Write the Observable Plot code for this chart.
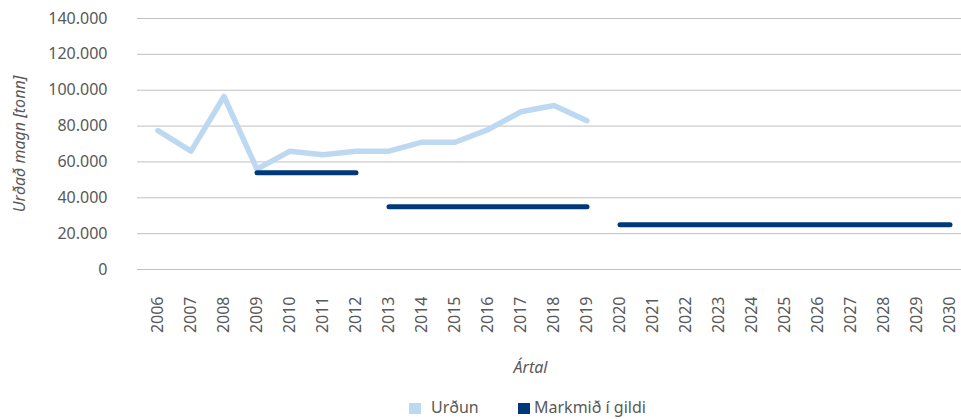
<!DOCTYPE html>
<html>
<head>
<meta charset="utf-8">
<script src="https://cdn.jsdelivr.net/npm/d3@7"></script>
<script src="https://cdn.jsdelivr.net/npm/@observablehq/plot@0.6"></script>
<style>
  body { margin: 0; background: #fff; font-family: "Noto Sans", sans-serif; overflow: hidden; }
  #chart svg { display: block; }
  #legend { height: 29px; position: relative; color: #595959; font-size: 16px; }
  .sw { position: absolute; top: 13px; width: 12px; height: 11px; }
  .lb { position: absolute; top: 9px; line-height: 17px; white-space: nowrap; }
</style>
</head>
<body>
<div id="chart"></div>
<div id="legend"></div>
<script>
const years = d3.range(2006, 2031).map(String);
const urdunYears = ["2006","2007","2008","2009","2010","2011","2012","2013","2014","2015","2016","2017","2018","2019"];
const urdunValues = [77500, 66000, 96500, 56000, 66000, 64000, 66000, 66000, 71000, 71000, 78000, 88000, 91500, 83000];
const markmidYears = ["2009","2010","2011","2012","2013","2014","2015","2016","2017","2018","2019","2020","2021","2022","2023","2024","2025","2026","2027","2028","2029","2030"];
const markmidValues = [54000,54000,54000,54000,35000,35000,35000,35000,35000,35000,35000,25000,25000,25000,25000,25000,25000,25000,25000,25000,25000,25000];
const markmidPeriod = ["A","A","A","A","B","B","B","B","B","B","B","C","C","C","C","C","C","C","C","C","C","C"];
const yTicks = [0, 20000, 40000, 60000, 80000, 100000, 120000, 140000];
const seriesNames = ["Urðun", "Markmið í gildi"];
const colors = ["#bdd9f2", "#003878"];

const urdun = urdunYears.map((y, i) => ({year: y, value: urdunValues[i]}));
const markmid = markmidYears.map((y, i) => ({year: y, value: markmidValues[i], period: markmidPeriod[i]}));
const fmt = d => d3.format(",")(d).replace(/,/g, ".");
const textColor = "#595959";

const chart = Plot.plot({
  width: 961,
  height: 390,
  marginTop: 18,
  marginLeft: 137,
  marginRight: 0,
  marginBottom: 121,
  style: {fontFamily: "Noto Sans", fontSize: "16px", color: textColor, background: "#fff"},
  x: {type: "band", domain: years, range: [137, 970], padding: 0},
  y: {domain: [0, 140000]},
  marks: [
    Plot.gridY(yTicks, {stroke: "#c0c0c0", strokeOpacity: 1, strokeWidth: 1}),
    Plot.axisY(yTicks, {tickSize: 0, tickPadding: 30, tickFormat: fmt, label: null, fill: textColor, fontSize: 16}),
    Plot.axisX(years, {tickSize: 0, tickPadding: 27, tickRotate: -90, label: null, fill: textColor, fontSize: 16}),
    Plot.line(urdun, {x: "year", y: "value", stroke: colors[0], strokeWidth: 5.5, strokeLinejoin: "round", strokeLinecap: "round"}),
    Plot.line(markmid, {x: "year", y: "value", z: "period", stroke: colors[1], strokeWidth: 5, strokeLinecap: "round"}),
    Plot.text(["Urðað magn [tonn]"], {frameAnchor: "left", textAnchor: "middle", lineAnchor: "middle", rotate: -90, dx: -118, fontStyle: "italic", fill: textColor, fontSize: 16}),
    Plot.text(["Ártal"], {frameAnchor: "bottom", textAnchor: "middle", lineAnchor: "middle", dx: -19, dy: 98, fontStyle: "italic", fill: textColor, fontSize: 16})
  ]
});
document.getElementById("chart").appendChild(chart);

const legend = document.getElementById("legend");
const swLefts = [409, 518];
const lbLefts = [431, 534];
seriesNames.forEach((name, i) => {
  const sw = document.createElement("span");
  sw.className = "sw";
  sw.style.left = swLefts[i] + "px";
  sw.style.background = colors[i];
  legend.appendChild(sw);
  const lb = document.createElement("span");
  lb.className = "lb";
  lb.style.left = lbLefts[i] + "px";
  lb.textContent = name;
  legend.appendChild(lb);
});
</script>
</body>
</html>
